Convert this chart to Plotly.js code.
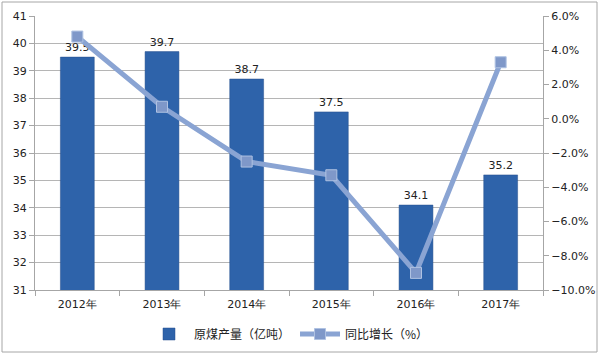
<!DOCTYPE html>
<html>
<head>
<meta charset="utf-8">
<script src="https://cdn.plot.ly/plotly-3.0.1.min.js"></script>
<style>
html,body{margin:0;padding:0;background:#fff;}
#chart{width:600px;height:356px;}
</style>
</head>
<body>
<div id="chart"></div>
<script>
const categories = ["2012年","2013年","2014年","2015年","2016年","2017年"];
const output = [39.5, 39.7, 38.7, 37.5, 34.1, 35.2];
const growth = [4.8, 0.7, -2.5, -3.3, -9.0, 3.3];
const outputName = "原煤产量（亿吨）";
const growthName = "同比增长（%）";

const font = "DejaVu Sans, Verdana, sans-serif";
const cjk = "Noto Sans CJK SC, sans-serif";

const traces = [
  {
    type: "bar",
    name: outputName,
    x: categories,
    y: output,
    width: 0.4,
    marker: {color: "#2E63AA", line: {color: "#264F8C", width: 0.5}},
    text: output.map(v => v.toFixed(1)),
    textposition: "outside",
    textfont: {family: font, size: 11, color: "#222"},
    cliponaxis: false,
    yaxis: "y"
  },
  {
    type: "scatter",
    mode: "lines+markers",
    name: growthName,
    x: categories,
    y: growth,
    yaxis: "y2",
    line: {color: "#8AA4D3", width: 5},
    marker: {symbol: "square", size: 11, color: "#7F98C9", line: {color: "#AFC2E2", width: 1}},
    cliponaxis: false
  }
];

const layout = {
  width: 600, height: 356,
  margin: {l: 35, r: 57, t: 16, b: 66, autoexpand: false},
  paper_bgcolor: "#fff",
  plot_bgcolor: "#fff",
  showlegend: true,
  legend: {orientation: "h", x: 0.5, xanchor: "center", y: (290 - 334) / 274, yanchor: "middle",
           font: {family: cjk, size: 12, color: "#222"}, itemwidth: 40, tracegroupgap: 0},
  bargap: 0.6,
  xaxis: {
    type: "category",
    showline: true, linecolor: "#A6A6A6", linewidth: 1,
    ticks: "outside", tickson: "boundaries", ticklen: 5, tickcolor: "#A6A6A6",
    ticklabelstandoff: 4,
    tickfont: {family: font, size: 11, color: "#222"},
    showgrid: false
  },
  yaxis: {
    range: [31, 41], dtick: 1,
    showline: true, linecolor: "#A6A6A6",
    ticks: "outside", ticklen: 5, tickcolor: "#A6A6A6",
    gridcolor: "#B5B5B5", gridwidth: 1,
    zeroline: false,
    tickfont: {family: font, size: 11, color: "#222"}
  },
  yaxis2: {
    overlaying: "y", side: "right",
    range: [-10, 6], dtick: 2,
    tickformat: ".1f", ticksuffix: "%",
    showline: true, linecolor: "#A6A6A6",
    ticks: "outside", ticklen: 5, tickcolor: "#A6A6A6",
    showgrid: false, zeroline: false,
    tickfont: {family: font, size: 11, color: "#222"}
  },
  shapes: [{
    type: "rect", xref: "paper", yref: "paper",
    x0: (2 - 35) / 508, x1: (597 - 35) / 508,
    y0: (290 - 352) / 274, y1: (290 - 2) / 274,
    line: {color: "#A6A6A6", width: 1}, fillcolor: "rgba(0,0,0,0)", layer: "below"
  }]
};

Plotly.newPlot("chart", traces, layout, {displayModeBar: false, staticPlot: true});
</script>
</body>
</html>
